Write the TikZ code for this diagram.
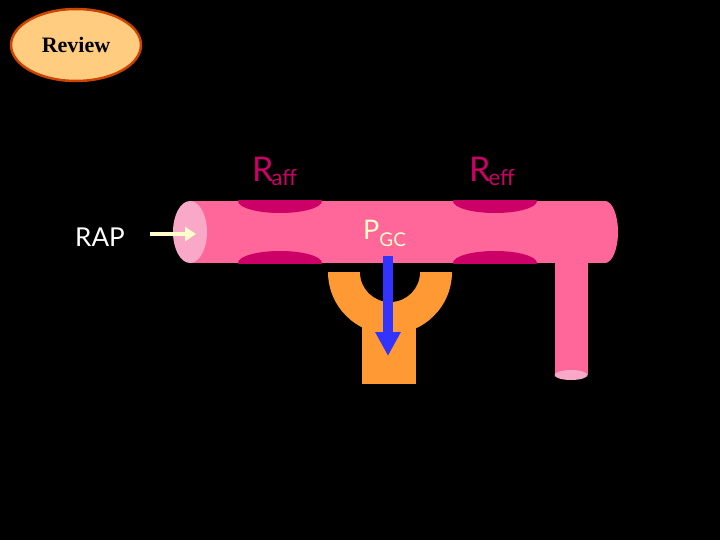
\documentclass[tikz,border=0pt]{standalone}
\usepackage{fontspec}
\setsansfont{Lato}
\newfontfamily\revfont{Liberation Serif}
\usetikzlibrary{shapes.geometric,arrows.meta}
\definecolor{tube}{HTML}{FF6699}
\definecolor{tubeend}{HTML}{F9A8C8}
\definecolor{bulge}{HTML}{CC0066}
\definecolor{orng}{HTML}{FF9933}
\definecolor{arblue}{HTML}{3333FF}
\definecolor{cream}{HTML}{FFFFCC}
\begin{document}
\begin{tikzpicture}[x=1pt,y=-1pt,
  lab/.style={font=\sffamily,inner sep=0pt,anchor=base west}]
\fill[black] (0,0) rectangle (720,540);
\useasboundingbox (0,0) rectangle (720,540);
% review
\node[ellipse,draw={rgb,255:red,204;green,68;blue,0},line width=2.5pt,fill={rgb,255:red,255;green,204;blue,128},minimum width=130pt,minimum height=72pt,font=\revfont\bfseries\fontsize{22}{26}\selectfont] (rev) at (76,45) {Review};
% orange Y
\fill[orng] (328,272) -- (452,272) arc[start angle=0,end angle=180,radius=62] -- cycle;
\fill[orng] (362,300) rectangle (416,384);
\fill[black] (420,272) arc[start angle=0,end angle=180,radius=30] -- cycle;
% tube
\fill[tube] (190,201) rectangle (605,263);
\fill[tube] (605,232) ellipse[x radius=13,y radius=31];
\fill[tube] (555,255) rectangle (588,375);
\fill[tubeend] (571,375) ellipse[x radius=16.5,y radius=5];
\begin{scope}
\clip (190,201) rectangle (618,263);
\fill[bulge] (280,201) ellipse[x radius=42,y radius=12];
\fill[bulge] (280,263) ellipse[x radius=42,y radius=12];
\fill[bulge] (495,201) ellipse[x radius=42,y radius=12];
\fill[bulge] (495,263) ellipse[x radius=42,y radius=12];
\end{scope}
\fill[tubeend] (190,232) ellipse[x radius=17,y radius=31];
% labels
\node[lab,text=bulge] (raff) at (252,182) {\fontsize{34}{34}\selectfont R\kern-2pt\fontsize{22}{22}\selectfont\raisebox{-4pt}{aff}};
\node[lab,text=bulge] (reff) at (469,182) {\fontsize{34}{34}\selectfont R\kern-2pt\fontsize{22}{22}\selectfont\raisebox{-4pt}{eff}};
\node[lab,text=cream] (pgc) at (363,240) {\fontsize{27}{27}\selectfont P\fontsize{19}{19}\selectfont\raisebox{-6pt}{GC}};
\node[lab,text=white] (rap) at (75,246) {\fontsize{26}{26}\selectfont RAP};
\coordinate (rapE) at (150,234);
\coordinate (tubeIn) at (196,234);
\draw[cream,line width=4.5pt,-{Triangle[length=11pt,width=14pt]}] (rapE) -- (tubeIn);
\coordinate (bA) at (388,256);
\coordinate (bB) at (388,356);
\draw[arblue,line width=10pt,-{Triangle[length=24pt,width=24pt]}] (bA) -- (bB);
\end{tikzpicture}
\end{document}
